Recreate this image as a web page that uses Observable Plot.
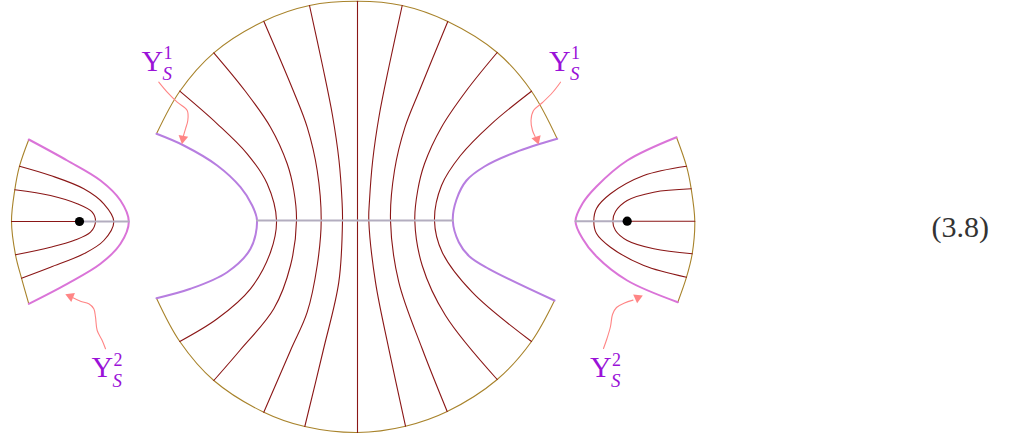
<!DOCTYPE html>
<html>
<head>
<meta charset="utf-8">
<script src="https://cdn.jsdelivr.net/npm/d3@7"></script>
<script src="https://cdn.jsdelivr.net/npm/@observablehq/plot@0.6"></script>
<style>
  html, body { margin: 0; padding: 0; background: #ffffff; }
  #chart svg { display: block; overflow: visible; }
</style>
</head>
<body>
<div id="chart"></div>
<script>
// ---- Curves (pixel coordinates, y down) ----
// Big disk boundary (two arcs)
const arcTop = [[156,133.3],[179.3,90.7],[213.3,52.3],[263.3,20.7],[309,5],[356.9,0.8],[401.7,5],[447.3,21],[496.7,52],[531,90.7],[556.7,138.3]];
const arcBottom = [[156,297.7],[179.3,341],[213.3,380],[263.3,411.7],[304.3,426],[356.9,432],[405,425.7],[446.7,411],[496.7,379],[531,341],[554,300]];

// Dark red level curves inside the disk
const centerL4 = [[179.3,90.7],[216.7,123.3],[246.7,153.3],[266.7,183.3],[276,220],[270,251.7],[250,288.3],[216.7,318.3],[179.3,341]];
const centerL3 = [[213.3,52.3],[244.3,90],[270,126.7],[286.7,163.3],[293.3,190],[296,220],[290,265],[273.3,308.3],[239.3,350],[213.3,380]];
const centerL2 = [[263.3,20.7],[292.7,90],[306.7,126.7],[316.7,170],[320.7,220],[316.7,265],[306.7,311.7],[290,350],[263.3,411.7]];
const centerL1 = [[309,5],[322,65],[332,115],[338.5,160],[341.5,200],[342,220],[338.3,281.7],[322.7,350],[304.3,426]];
const centerV  = [[357,0.8],[357,432]];
const centerR1 = [[401.7,5],[388.7,65],[378.7,115],[372.2,160],[369,200],[368.3,220],[375,281.7],[388.3,348.3],[405,425.7]];
const centerR2 = [[447.3,21],[419,90],[404.5,126.7],[394,170],[390,220],[398.3,281.7],[421.7,348.3],[446.7,411]];
const centerR3 = [[496.7,52],[466,90],[441,126.7],[424,163.3],[417.2,190],[414.3,220],[421.7,265],[445,315],[496.7,379]];
const centerR4 = [[531,90.7],[491,123.3],[460,155],[441,185],[434,220],[441.7,251.7],[471.7,291.7],[531,341]];

// Cut boundaries of the disk (Υ_S^1)
const cutLeft  = [[156,133.3],[183.3,145],[216.7,165],[240,186.7],[251.7,205],[256.5,220],[250,248.3],[226.7,271.7],[190,288.3],[156,297.7]];
const cutRight = [[556.7,138.3],[515,151.7],[484,166],[466,180],[456,199],[452.3,220],[458.3,241.7],[469,256],[488.3,268.3],[554,300]];
const centerAxis = [[256.5,220],[452.3,220]];

// Left side piece
const sideLArc    = [[28.3,139],[19,165.7],[14.3,189.3],[11,221],[15,254.3],[21,277.7],[28.3,303.3]];
const sideLBound  = [[28.3,139],[66.7,160],[100,180],[120,200],[128.3,221],[120,243.3],[100,263.3],[66.7,283.3],[28.3,303.3]];
const sideLOuter  = [[19,165.7],[50,175],[83.3,188.3],[103.3,203.3],[113.3,221],[103.3,240],[83.3,253.3],[50,266.7],[21,277.7]];
const sideLInner  = [[14.3,189.3],[50,195],[76.7,203.3],[91.7,211.7],[95,221],[90,231.7],[73.3,240],[50,246.7],[15,254.3]];
const sideLRay    = [[11,221],[79,221]];
const sideLAxis   = [[79,221],[128.3,221]];

// Right side piece
const sideRArc    = [[676,136.7],[686,165.7],[690.7,188.3],[694.3,220.7],[691.7,253.3],[686,276.7],[677.3,301.7]];
const sideRBound  = [[676,136.7],[626.7,160],[596,186],[582,203],[575,220.7],[582,238],[596,256],[626.7,280],[677.3,301.7]];
const sideROuter  = [[686,165.7],[643.3,175],[610,193.3],[596,208],[593.3,220.7],[596,233],[610,246.7],[643.3,265],[686,276.7]];
const sideRInner  = [[690.7,188.3],[653.3,191.7],[626.7,200],[615,211],[612.3,220.7],[615,230],[626.7,240],[653.3,248.3],[691.7,253.3]];
const sideRRay    = [[626.7,220.7],[694.3,220.7]];
const sideRAxis   = [[575,220.7],[626.7,220.7]];

// Marked points
const pointsX = [79, 626.7];
const pointsY = [221, 220.7];

// Annotation arrows (pink, wavy)
const arrowTL = [[158.3,81.7],[166.7,91.7],[176.7,101.7],[186.7,110],[187.3,120],[185,128.3],[182.9,135.5]];
const arrowTR = [[560,81.7],[552,92],[542,102],[533,110],[530.5,120],[532,130],[534.6,136]];
const arrowBL = [[105,348.3],[101.7,340],[96.7,330],[95,316.7],[93.3,308.3],[88.3,303.3],[80,300.7],[72.5,297.2]];
const arrowBR = [[603,348],[606.5,338],[610,326],[612,314],[616,307],[624,302.5],[632.5,299.6]];
const headX = [182.4, 536.4, 70, 637.2];
const headY = [138.2, 138.8, 295.9, 297.3];
const headAngle = [190, 162, -68, 66];

// Labels Υ_S^k
const labelX = [141, 548.5, 91, 589.5];
const labelY = [70, 70, 376.5, 376.5];
const labelSup = ["1", "1", "2", "2"];
const labelSub = ["S", "S", "S", "S"];

// Equation number
const eqText = "(3.8)";
const eqX = 931;
const eqY = 236;

// ---- Colours ----
const cArc = "#a8832b";
const cRed = "#8a1616";
const cCut = "#b77ee0";
const cSide = "#da74d8";
const cAxis = "#b3adbf";
const cArrow = "#ff8585";
const cLabel = "#9a12d8";

const rows = (name, pts) => pts.map(([x, y]) => ({name, x, y}));
const group = (obj) => Object.entries(obj).flatMap(([k, v]) => rows(k, v));

const arcs = group({arcTop, arcBottom, sideLArc, sideRArc});
const reds = group({centerL4, centerL3, centerL2, centerL1, centerV, centerR1, centerR2, centerR3, centerR4,
                    sideLOuter, sideLInner, sideROuter, sideRInner});
const cuts = group({cutLeft, cutRight});
const sides = group({sideLBound, sideRBound});
const axes = group({centerAxis, sideLAxis, sideRAxis});
const rays = group({sideLRay, sideRRay});
const arrows = group({arrowTL, arrowTR, arrowBL, arrowBR});
const heads = headX.map((x, i) => ({x, y: headY[i], a: headAngle[i]}));
const points = pointsX.map((x, i) => ({x, y: pointsY[i]}));
const labels = labelX.map((x, i) => ({x, y: labelY[i], sup: labelSup[i], sub: labelSub[i]}));

const serif = "'Liberation Serif', 'DejaVu Serif', serif";

const chart = Plot.plot({
  width: 1009,
  height: 441,
  margin: 0,
  style: {background: "#ffffff", overflow: "visible"},
  x: {type: "linear", domain: [0, 1009], range: [0, 1009], axis: null},
  y: {type: "linear", domain: [0, 441], range: [0, 441], axis: null},
  marks: [
    Plot.line(arcs, {x: "x", y: "y", z: "name", stroke: cArc, strokeWidth: 1.1, curve: "catmull-rom"}),
    Plot.line(reds, {x: "x", y: "y", z: "name", stroke: cRed, strokeWidth: 1.1, curve: "catmull-rom"}),
    Plot.line(rays, {x: "x", y: "y", z: "name", stroke: cRed, strokeWidth: 1.1}),
    Plot.line(cuts, {x: "x", y: "y", z: "name", stroke: cCut, strokeWidth: 2, curve: "catmull-rom"}),
    Plot.line(sides, {x: "x", y: "y", z: "name", stroke: cSide, strokeWidth: 2, curve: "catmull-rom"}),
    Plot.line(axes, {x: "x", y: "y", z: "name", stroke: cAxis, strokeWidth: 2}),
    Plot.dot(points, {x: "x", y: "y", r: 4.6, fill: "#000000", stroke: "none"}),
    Plot.line(arrows, {x: "x", y: "y", z: "name", stroke: cArrow, strokeWidth: 1.1, curve: "catmull-rom"}),
    Plot.dot(heads, {x: "x", y: "y", rotate: "a", symbol: "triangle", r: 3.6, fill: cArrow, stroke: "none"}),
    Plot.text(labels, {x: "x", y: "y", text: () => "Υ", textAnchor: "start", lineAnchor: "bottom",
      fontFamily: serif, fontSize: 30, fill: cLabel}),
    Plot.text(labels, {x: d => d.x + 22, y: d => d.y - 11.5, text: "sup", textAnchor: "start", lineAnchor: "bottom",
      fontFamily: serif, fontSize: 18, fill: cLabel}),
    Plot.text(labels, {x: d => d.x + 21, y: d => d.y + 9.5, text: "sub", textAnchor: "start", lineAnchor: "bottom",
      fontFamily: serif, fontSize: 19, fontStyle: "italic", fill: cLabel}),
    Plot.text([eqText], {x: () => eqX, y: () => eqY, text: d => d, textAnchor: "start", lineAnchor: "bottom",
      fontFamily: serif, fontSize: 30, fill: "#333333"})
  ]
});
document.getElementById("chart").appendChild(chart);
</script>
</body>
</html>
